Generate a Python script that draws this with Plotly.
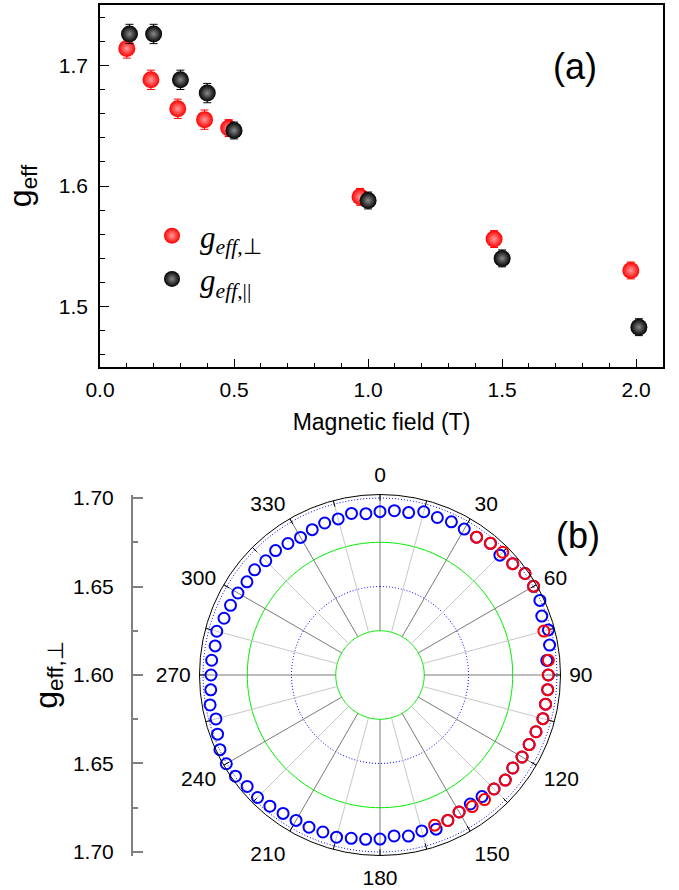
import plotly.graph_objects as go

W, H = 679, 890

# ---------------- Panel (a) data ----------------
field_perp = [0.10, 0.19, 0.29, 0.39, 0.48, 0.97, 1.47, 1.98]
g_perp = [1.714, 1.688, 1.664, 1.655, 1.648, 1.591, 1.556, 1.530]
err_perp = [0.008, 0.008, 0.008, 0.008, 0.007, 0.007, 0.007, 0.007]

field_par = [0.11, 0.20, 0.30, 0.40, 0.50, 1.00, 1.50, 2.01]
g_par = [1.726, 1.726, 1.688, 1.677, 1.646, 1.588, 1.540, 1.483]
err_par = [0.008, 0.008, 0.008, 0.008, 0.007, 0.007, 0.007, 0.007]

x_ticks = [0.0, 0.5, 1.0, 1.5, 2.0]
x_ticktext = ["0.0", "0.5", "1.0", "1.5", "2.0"]
y_ticks = [1.5, 1.6, 1.7]
y_ticktext = ["1.5", "1.6", "1.7"]

# ---------------- Panel (b) data ----------------
theta_blue = [0, 5, 10, 15, 20, 25, 30, 35, 40, 45, 50, 55, 60, 65, 70, 75, 80, 85,
              90, 95, 100, 105, 110, 115, 120, 125, 130, 135, 140, 145, 150, 155, 160, 165,
              170, 175, 180, 185, 190, 195, 200, 205, 210, 215, 220, 225, 230, 235, 240,
              245, 250, 255, 260, 265, 270, 275, 280, 285, 290, 295, 300, 305, 310, 315,
              320, 325, 330, 335, 340, 345, 350, 355]
g_blue = [1.6923, 1.6932, 1.6932, 1.6955, 1.6947, 1.6955, 1.6952, 1.6951, 1.6971, 1.6958,
          1.6979, 1.7000, 1.7002, 1.6997, 1.6973, 1.6985, 1.6973, 1.6946, 1.6951, 1.6951,
          1.6950, 1.6953, 1.6938, 1.6930, 1.6927, 1.6916, 1.6924, 1.6911, 1.6897, 1.6890,
          1.6894, 1.6907, 1.6927, 1.6912, 1.6924, 1.6913, 1.6927, 1.6932, 1.6937, 1.6949,
          1.6944, 1.6949, 1.6949, 1.6955, 1.6968, 1.6979, 1.6980, 1.6997, 1.7003, 1.6998,
          1.6977, 1.6960, 1.6975, 1.6960, 1.6955, 1.6955, 1.6946, 1.6955, 1.6938, 1.6932,
          1.6927, 1.6918, 1.6925, 1.6913, 1.6918, 1.6907, 1.6898, 1.6906, 1.6914, 1.6913,
          1.6927, 1.6915]

theta_red = [35, 40, 45, 50, 55, 60, 75, 85, 90, 95, 100, 105, 110, 115, 120, 125, 130,
             135, 140, 145, 150, 155, 160]
g_red = [1.6951, 1.6971, 1.6981, 1.6979, 1.7000, 1.7002, 1.6959, 1.6955, 1.6951, 1.6951,
         1.6950, 1.6953, 1.6938, 1.6930, 1.6927, 1.6916, 1.6924, 1.6911, 1.6919, 1.6908,
         1.6894, 1.6907, 1.6903]

ang_ticks = [0, 15, 30, 45, 60, 75, 90, 105, 120, 135, 150, 165, 180, 195, 210, 225,
             240, 255, 270, 285, 300, 315, 330, 345]
ang_ticktext = ["0", "", "30", "", "60", "", "90", "", "120", "", "150", "", "180", "",
                "210", "", "240", "", "270", "", "300", "", "330", ""]
ring_green = [1.625, 1.675]
ring_blue = [1.65, 1.70]
r_inner = 1.625
r_outer = 1.702
r_tick = 1.6985
r_center = 1.60

left_ticks = [-0.10, -0.05, 0.0, 0.05, 0.10]
left_ticktext = ["1.70", "1.65", "1.60", "1.65", "1.70"]
left_minor = [-0.075, -0.025, 0.025, 0.075]

FONT = "Arial, Liberation Sans, sans-serif"

fig = go.Figure()

# ---- Panel (a) traces ----
fig.add_trace(go.Scatter(
    x=field_perp, y=g_perp, mode="markers",
    name="<i>g</i><sub><i>eff</i>,\u22a5</sub>",
    error_y=dict(type="data", array=err_perp, color="#ff0000", thickness=1, width=4),
    marker=dict(size=17, color="#ff0000",
                gradient=dict(type="radial", color="#ff9a9a"), line=dict(width=0)),
    xaxis="x", yaxis="y"))
fig.add_trace(go.Scatter(
    x=field_par, y=g_par, mode="markers",
    name="<i>g</i><sub><i>eff</i>,||</sub>",
    error_y=dict(type="data", array=err_par, color="#000000", thickness=1, width=4),
    marker=dict(size=17, color="#000000",
                gradient=dict(type="radial", color="#8a8a8a"), line=dict(width=0)),
    xaxis="x", yaxis="y"))

# ---- Panel (b) grid (polar) ----
circ_theta = list(range(0, 361, 2))
for rv in ring_green:
    fig.add_trace(go.Scatterpolar(r=[rv] * len(circ_theta), theta=circ_theta, mode="lines",
                                  line=dict(color="#00ee00", width=1), showlegend=False,
                                  hoverinfo="skip", subplot="polar"))
for rv in ring_blue:
    fig.add_trace(go.Scatterpolar(r=[rv] * len(circ_theta), theta=circ_theta, mode="lines",
                                  line=dict(color="#0000ff", width=1, dash="1px,2px"),
                                  showlegend=False, hoverinfo="skip", subplot="polar"))

dark_r, dark_t, light_r, light_t, tick_r, tick_t = [], [], [], [], [], []
for a in ang_ticks:
    if a % 30 == 0:
        dark_r += [r_inner, r_outer, None]
        dark_t += [a, a, None]
    else:
        light_r += [r_inner, r_outer, None]
        light_t += [a, a, None]
    tick_r += [r_tick, r_outer, None]
    tick_t += [a, a, None]
fig.add_trace(go.Scatterpolar(r=light_r, theta=light_t, mode="lines",
                              line=dict(color="#c8c8c8", width=1), showlegend=False,
                              hoverinfo="skip", subplot="polar", connectgaps=False))
fig.add_trace(go.Scatterpolar(r=dark_r, theta=dark_t, mode="lines",
                              line=dict(color="#7a7a7a", width=1), showlegend=False,
                              hoverinfo="skip", subplot="polar", connectgaps=False))
fig.add_trace(go.Scatterpolar(r=tick_r, theta=tick_t, mode="lines",
                              line=dict(color="#000000", width=1), showlegend=False,
                              hoverinfo="skip", subplot="polar", connectgaps=False))

fig.add_trace(go.Scatterpolar(r=g_blue, theta=theta_blue, mode="markers",
                              marker=dict(symbol="circle-open", size=11, color="#0000ff",
                                          line=dict(width=2, color="#0000ff")),
                              showlegend=False, subplot="polar"))
fig.add_trace(go.Scatterpolar(r=g_red, theta=theta_red, mode="markers",
                              marker=dict(symbol="circle-open", size=11, color="#ff0000",
                                          line=dict(width=2, color="#ff0000")),
                              showlegend=False, subplot="polar"))

# invisible anchor trace for the left radial scale
fig.add_trace(go.Scatter(x=[0.5], y=[0.0], mode="markers", marker=dict(opacity=0),
                         showlegend=False, hoverinfo="skip", xaxis="x2", yaxis="y2"))

# ---- geometry ----
ax_l, ax_r, ax_t, ax_b = 100, 663, 5, 367
pc_x, pc_y, pr = 380, 675, 180.5

fig.update_layout(
    width=W, height=H,
    margin=dict(l=0, r=0, t=0, b=0, autoexpand=False),
    paper_bgcolor="white", plot_bgcolor="white",
    font=dict(family=FONT, size=21, color="black"),
    showlegend=True,
    legend=dict(x=144 / W, y=1 - 209 / H, xanchor="left", yanchor="top",
                bgcolor="rgba(0,0,0,0)", borderwidth=0,
                font=dict(family="Liberation Serif, Times New Roman, serif", size=31),
                itemwidth=46, tracegroupgap=0),
    xaxis=dict(domain=[ax_l / W, ax_r / W], range=[0, 2.1], anchor="y", automargin=False,
               tickvals=x_ticks, ticktext=x_ticktext,
               ticks="inside", ticklen=8, tickwidth=1, tickcolor="black",
               minor=dict(dtick=0.1, ticks="inside", ticklen=4, tickcolor="black"),
               showline=True, mirror=True, linecolor="black", linewidth=1.5,
               showgrid=False, zeroline=False, ticklabelstandoff=3,
               title=dict(text="Magnetic field (T)", font=dict(size=23), standoff=14)),
    yaxis=dict(domain=[1 - ax_b / H, 1 - ax_t / H], range=[1.45, 1.75], anchor="x",
               automargin=False,
               tickvals=y_ticks, ticktext=y_ticktext,
               ticks="inside", ticklen=9, tickwidth=1, tickcolor="black",
               minor=dict(dtick=0.02, ticks="inside", ticklen=5, tickcolor="black"),
               showline=True, mirror=True, linecolor="black", linewidth=1.5,
               showgrid=False, zeroline=False, ticklabelstandoff=6,
               title=dict(text="g<sub>eff</sub>", font=dict(size=32), standoff=18)),
    xaxis2=dict(domain=[133 / W, 135 / W], range=[0, 1], anchor="y2", visible=False),
    yaxis2=dict(domain=[1 - (pc_y + pr) / H, 1 - (pc_y - pr) / H],
                range=[-0.102, 0.102], anchor="x2", side="left", automargin=False,
                tickvals=left_ticks, ticktext=left_ticktext,
                ticks="inside", ticklen=10, tickwidth=1.5, tickcolor="#808080",
                minor=dict(tickvals=left_minor, ticks="inside", ticklen=5,
                           tickcolor="#808080", tickwidth=1.5),
                showline=True, linecolor="#808080", linewidth=2,
                showgrid=False, zeroline=False, ticklabelstandoff=13,
                title=dict(text="g<sub>eff,\u22a5</sub>", font=dict(size=32), standoff=6)),
    polar=dict(
        domain=dict(x=[(pc_x - pr) / W, (pc_x + pr) / W],
                    y=[1 - (pc_y + pr) / H, 1 - (pc_y - pr) / H]),
        bgcolor="white",
        radialaxis=dict(range=[r_center, r_outer], visible=False, showgrid=False),
        angularaxis=dict(rotation=90, direction="clockwise",
                         tickmode="array", tickvals=ang_ticks, ticktext=ang_ticktext,
                         ticks="outside", ticklen=4, tickcolor="rgba(0,0,0,0)",
                         showline=True, linecolor="black", linewidth=1,
                         showgrid=False, tickfont=dict(size=21)),
    ),
    annotations=[
        dict(text="(a)", x=575 / W, y=1 - 67 / H, xref="paper", yref="paper",
             showarrow=False, font=dict(size=36), xanchor="center", yanchor="middle"),
        dict(text="(b)", x=578 / W, y=1 - 535 / H, xref="paper", yref="paper",
             showarrow=False, font=dict(size=36), xanchor="center", yanchor="middle"),
    ],
)

fig.write_html("out.html")
